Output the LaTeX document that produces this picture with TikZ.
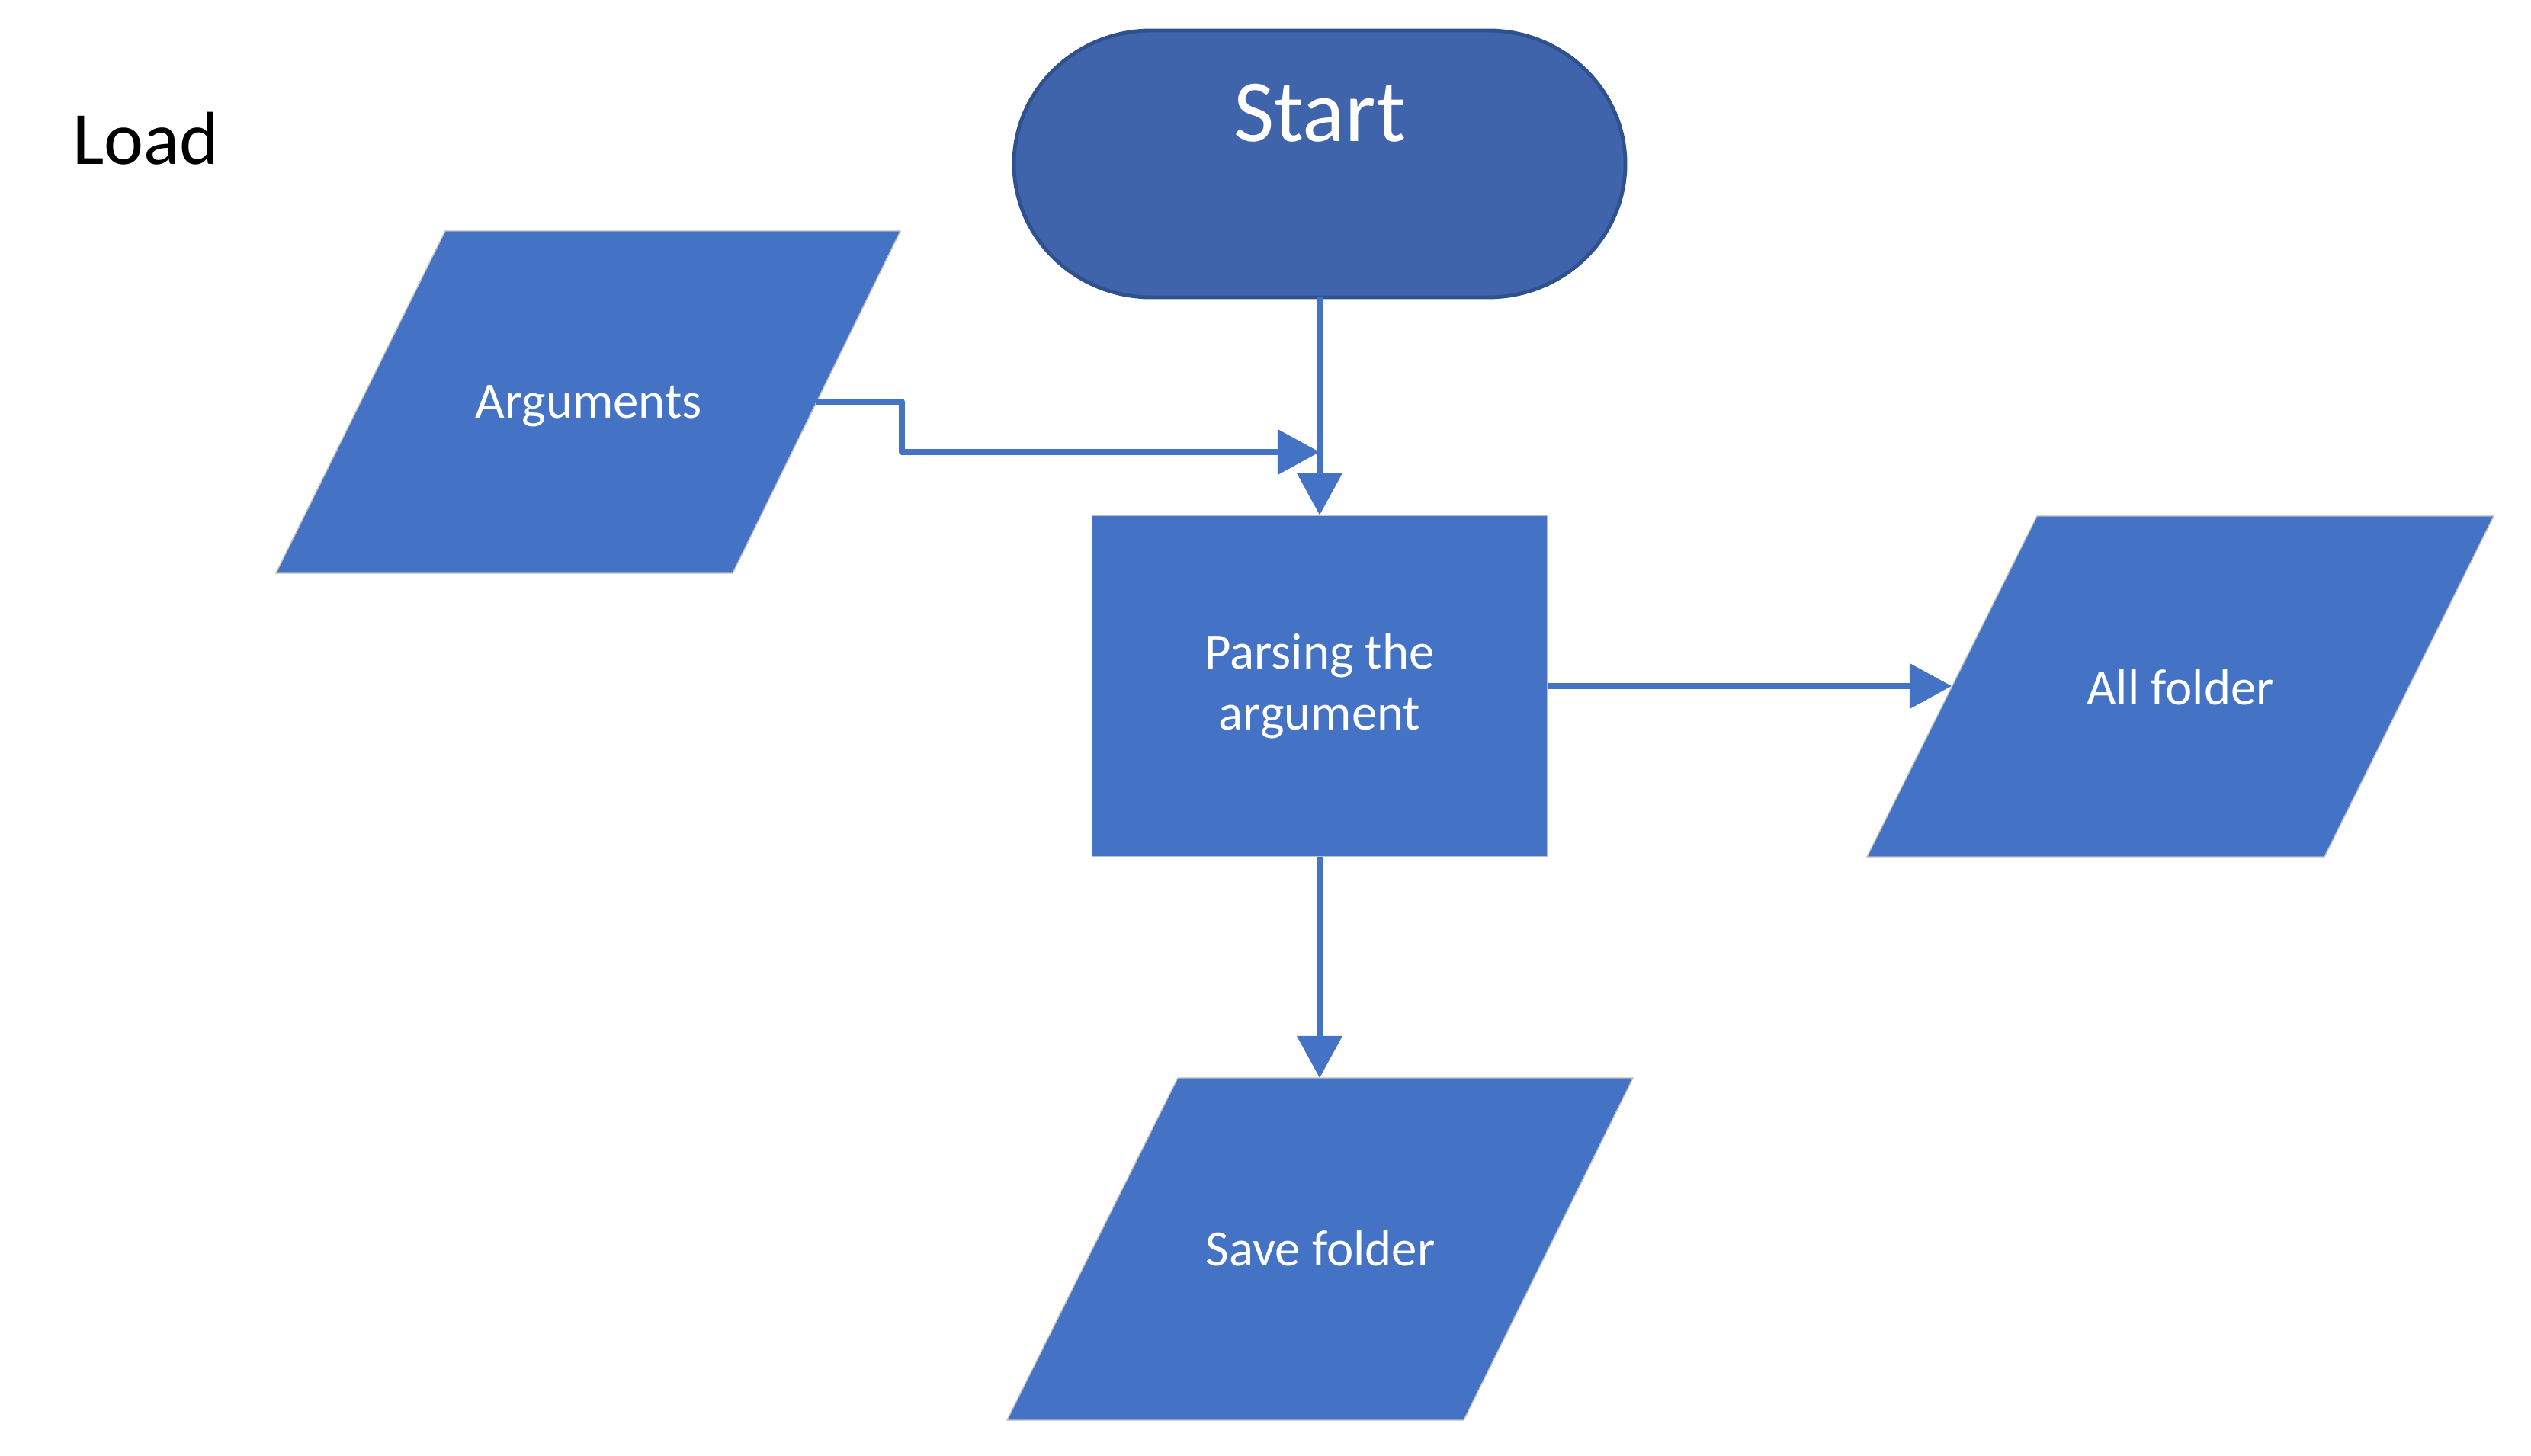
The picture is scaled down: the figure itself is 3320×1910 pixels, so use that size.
\documentclass[tikz,border=0pt]{standalone}
\usepackage{fontspec}
\setmainfont{Carlito}
\usetikzlibrary{arrows.meta}
\definecolor{boxblue}{HTML}{4472C4}
\definecolor{startblue}{HTML}{3F64AC}
\definecolor{startedge}{HTML}{2F528F}
\definecolor{edgegrey}{HTML}{BFBFBF}
\begin{document}
\begin{tikzpicture}[x=0.01cm,y=-0.01cm,
  shapefill/.style={fill=boxblue,draw=edgegrey,line width=0.4pt},
  label/.style={text=white,font=\fontsize{19}{23}\selectfont,align=center},
  flow/.style={draw=boxblue,line width=2.1pt,line join=round,
    -{Triangle[length=0.55cm,width=0.58cm]}}]
\useasboundingbox (0,0) rectangle (3320,1910);

% title
\node[anchor=west,font=\fontsize{28}{32}\selectfont] (title) at (83,182) {Load};

% terminator with elliptical ends
\filldraw[fill=startblue,draw=startedge,line width=1.4pt]
  (1510,40) -- (1952,40) arc[start angle=-90,end angle=90,x radius=180,y radius=175]
  -- (1510,390) arc[start angle=90,end angle=270,x radius=180,y radius=175] -- cycle;
\node[text=white,font=\fontsize{33}{38}\selectfont] (starttxt) at (1731,148) {Start};
\coordinate (start-s) at (1731,390);

% input: Arguments
\filldraw[shapefill] (584,303) -- (1181,303) -- (961,752) -- (362,752) -- cycle;
\node[label] (args) at (772,533) {Arguments};
\coordinate (args-e) at (1071,527);

% process
\node[shapefill,rectangle,minimum width=5.97cm,minimum height=4.47cm,
  label] (parse) at (1731,900) {Parsing the\\argument};

% output: All folder
\filldraw[shapefill] (2672,677) -- (3271,677) -- (3049,1124) -- (2449,1124) -- cycle;
\node[label] (allf) at (2860,902) {All folder};
\coordinate (allf-w) at (2560,900);

% output: Save folder
\filldraw[shapefill] (1545,1414) -- (2142,1414) -- (1920,1863) -- (1321,1863) -- cycle;
\node[label] (savef) at (1732,1638) {Save folder};
\coordinate (savef-n) at (1731,1414);

% connectors
\coordinate (merge) at (1731,593);
\draw[flow] (start-s) -- (parse.north);
\draw[flow] (args-e) -- ++(112,0) |- (merge);
\draw[flow] (parse.east) -- (allf-w);
\draw[flow] (parse.south) -- (savef-n);
\end{tikzpicture}
\end{document}
